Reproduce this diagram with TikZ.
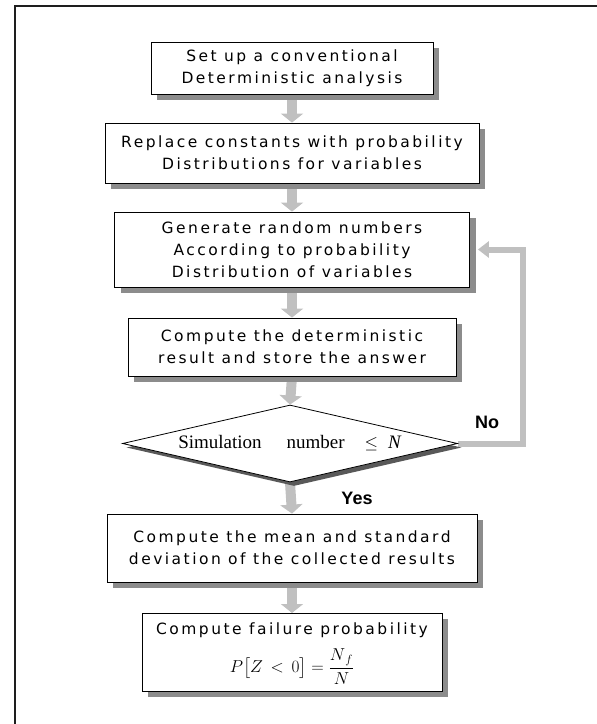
\documentclass[tikz,border=0pt]{standalone}
\usepackage{fontspec}
\usepackage{amsmath}
\usepackage{tikz}
\usetikzlibrary{arrows.meta,shapes.geometric,shadows,backgrounds}
\newfontfamily\boxfont[LetterSpace=16]{DejaVu Sans}
\newfontfamily\testfont{Liberation Serif}
\newfontfamily\answerfont{Liberation Sans}
\definecolor{flowgray}{HTML}{C0C0C0}
\definecolor{shadegray}{HTML}{8C8C8C}
\definecolor{framegray}{HTML}{1E1E1E}

\begin{document}
\begin{tikzpicture}[x=1pt,y=-1pt,
    procbox/.style={draw, fill=white, line width=0.8pt, inner sep=0pt, align=center,
        font=\boxfont\fontsize{15.5}{22}\selectfont,
        drop shadow={shadow xshift=6pt, shadow yshift=-6pt, fill=shadegray, opacity=1}},
    testbox/.style={diamond, draw, fill=white, line width=0.8pt, inner sep=0pt, aspect=4.35,
        minimum width=335pt, minimum height=77pt, font=\testfont\fontsize{19}{22}\selectfont,
        drop shadow={shadow xshift=4pt, shadow yshift=-4pt, fill=black!65, opacity=1}},
    answer/.style={font=\answerfont\bfseries\fontsize{18}{20}\selectfont, inner sep=0pt},
    flow/.style={flowgray, line width=10pt, -{Triangle[width=22pt,length=9pt]}},
    loopflow/.style={flowgray, line width=6pt, -{Triangle[width=16pt,length=11pt]}},
    ]
    \useasboundingbox (0,0) rectangle (597,724);
    \draw[framegray, line width=1.8pt] (15,724) -- (15,6) -- (597,6);

    \node[procbox, minimum width=282pt, minimum height=52pt] (setup) at (292,68)
        {Set up a conventional\\Deterministic analysis};
    \node[procbox, minimum width=374pt, minimum height=60pt] (replace) at (292,153)
        {Replace constants with probability\\Distributions for variables};
    \node[procbox, minimum width=355pt, minimum height=75pt] (gen) at (292,249.5)
        {Generate random numbers\\According to probability\\Distribution of variables};
    \node[procbox, minimum width=328pt, minimum height=58pt] (detres) at (292,347)
        {Compute the deterministic\\result and store the answer};
    \node[testbox] (test) at (290,443.5)
        {Simulation\hspace{25pt}number\hspace{20pt}$\leq$\hspace{10pt}\textit{N}\hspace{26pt}};
    \node[procbox, minimum width=370pt, minimum height=68pt] (stats) at (292,548)
        {Compute the mean and standard\\deviation of the collected results};
    \node[procbox, minimum width=300pt, minimum height=78pt, anchor=north] (failp) at (292,613)
        {\rule{0pt}{14pt}Compute failure probability\\[10pt]
         {\fontsize{18}{20}\selectfont$\displaystyle P\bigl[Z\,<\,0\bigr]=\frac{N_{\,f}}{N}$}};

    \node[answer] (nolbl) at (487,422) {No};
    \node[answer] (yeslbl) at (357,498) {Yes};

    \begin{scope}[on background layer]
        \draw[flow] (setup.south) -- (replace.north);
        \draw[flow] (replace.south) -- (gen.north);
        \draw[flow] (gen.south) -- (detres.north);
        \draw[flow] (detres.south) -- (test.north);
        \draw[flow] (test.south) -- (stats.north);
        \draw[flow] (stats.south) -- (failp.north);
        \draw[loopflow, shorten >=8pt] (test.east) -- ++(65,0) |- (gen.east);
    \end{scope}
\end{tikzpicture}
\end{document}
